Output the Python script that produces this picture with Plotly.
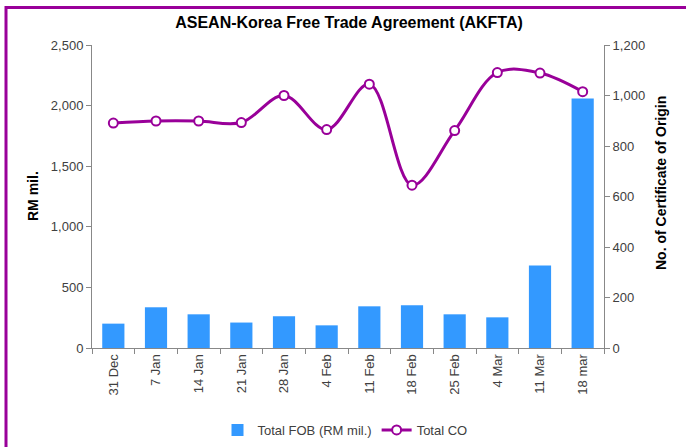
import plotly.graph_objects as go

categories = ["31 Dec", "7 Jan", "14 Jan", "21 Jan", "28 Jan", "4 Feb",
              "11 Feb", "18 Feb", "25 Feb", "4 Mar", "11 Mar", "18 mar"]
total_fob = [201, 336, 278, 210, 262, 187, 344, 352, 278, 253, 680, 2058]
total_co = [891, 899, 899, 893, 1000, 865, 1045, 645, 861, 1091, 1089, 1015]
left_ticks = [0, 500, 1000, 1500, 2000, 2500]
right_ticks = [0, 200, 400, 600, 800, 1000, 1200]

W, H = 686, 447
# desired page-pixel plot area (body margin removed via post_script)
PL, PR, PT, PB = 92, 604, 45, 348
L, T = PL, PT
R = W - PR
B = H - PB
pw, ph = W - L - R, H - T - B

def px_x(x):
    return (x - L) / pw

def px_y(y):
    return (H - B - y) / ph

FONT = "Liberation Sans, Arial, sans-serif"
tickfont = dict(family=FONT, size=13, color="#404040")
titlefont = dict(family=FONT, size=14, color="#000000")

fig = go.Figure()
fig.add_trace(go.Bar(
    x=categories, y=total_fob, name="Total FOB (RM mil.)",
    marker=dict(color="#3399FF", line=dict(width=0)), yaxis="y",
))
fig.add_trace(go.Scatter(
    x=categories, y=total_co, name="Total CO", yaxis="y2",
    mode="lines+markers",
    line=dict(color="#990099", width=3, shape="spline", smoothing=1.0),
    marker=dict(symbol="circle", size=9, color="white",
                line=dict(color="#990099", width=2)),
))

fig.update_layout(
    width=W, height=H,
    margin=dict(l=L, r=R, t=T, b=B, pad=0, autoexpand=False),
    paper_bgcolor="white", plot_bgcolor="white",
    bargap=0.48,
    title=dict(text="<b>ASEAN-Korea Free Trade Agreement (AKFTA)</b>",
               x=px_x(349), xref="paper", xanchor="center",
               y=1 - 22 / H, yanchor="middle",
               font=dict(family=FONT, size=16, color="#000000")),
    xaxis=dict(
        type="category", showgrid=False, showline=True, linecolor="#888888", linewidth=1,
        ticks="outside", tickson="boundaries", ticklen=5, tickcolor="#888888",
        tickangle=-90, tickfont=tickfont, range=[-0.5, 11.5], automargin=False,
    ),
    yaxis=dict(
        range=[0, 2500], tickvals=left_ticks, tickformat=",d", showgrid=False,
        showline=True, linecolor="#888888", linewidth=1,
        ticks="outside", ticklen=5, tickcolor="#888888", tickfont=tickfont,
        zeroline=False, automargin=False,
    ),
    yaxis2=dict(
        range=[0, 1200], tickvals=right_ticks, tickformat=",d", overlaying="y",
        side="right", showgrid=False, showline=True, linecolor="#888888", linewidth=1,
        ticks="outside", ticklen=5, tickcolor="#888888", tickfont=tickfont,
        zeroline=False, automargin=False,
    ),
    legend=dict(orientation="h", x=px_x(345), xanchor="center",
                y=px_y(430), yanchor="middle",
                font=dict(family=FONT, size=13, color="#404040"),
                bgcolor="rgba(0,0,0,0)"),
    showlegend=True,
    annotations=[
        dict(text="<b>RM mil.</b>", xref="paper", yref="paper",
             x=px_x(33), y=px_y(196), textangle=-90, showarrow=False,
             xanchor="center", yanchor="middle", font=titlefont),
        dict(text="<b>No. of Certificate of Origin</b>", xref="paper", yref="paper",
             x=px_x(661), y=px_y(183), textangle=-90, showarrow=False,
             xanchor="center", yanchor="middle", font=titlefont),
    ],
    shapes=[dict(type="rect", xref="paper", yref="paper",
                 x0=px_x(6), x1=px_x(W + 30), y0=px_y(H + 30), y1=px_y(7.5),
                 line=dict(color="#990099", width=3), fillcolor="rgba(0,0,0,0)",
                 layer="above")],
)

fig.write_html("out.html", config={"displayModeBar": False},
               post_script="document.body.style.margin='0px';")
